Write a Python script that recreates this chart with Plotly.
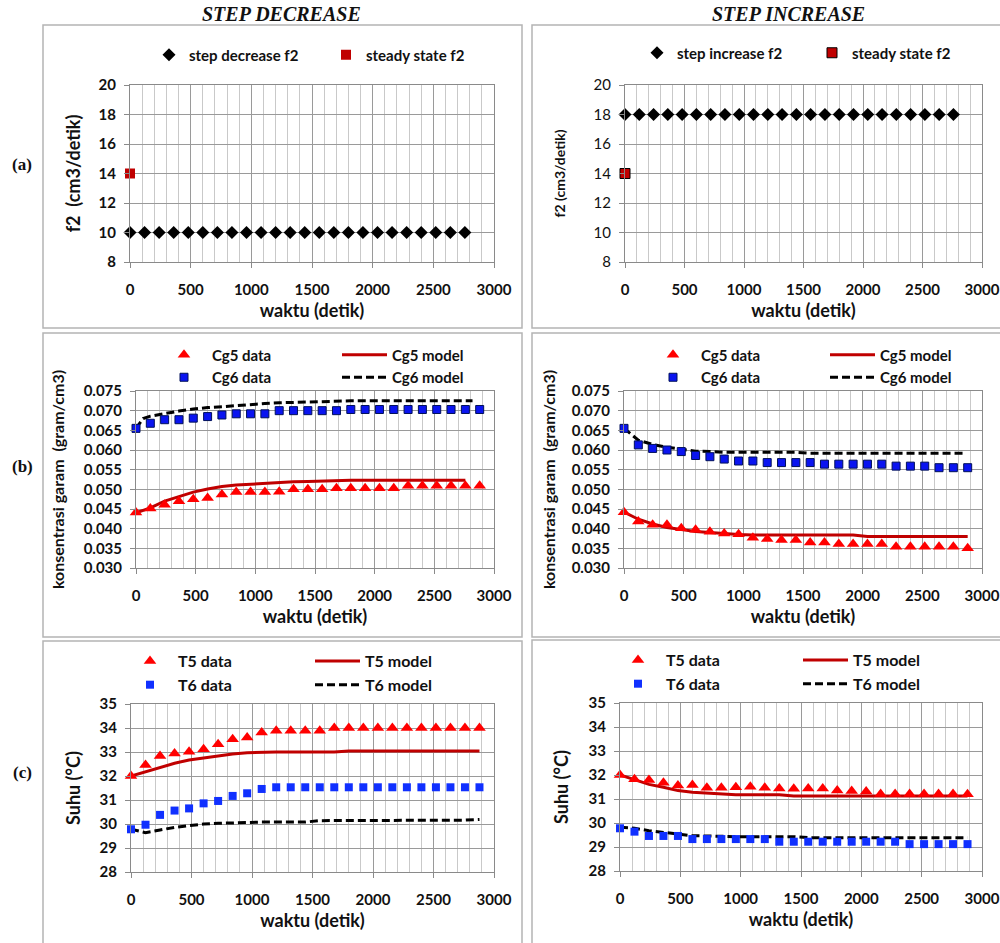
import plotly.graph_objects as go

# ---------------- data ----------------
t_f2 = [0, 120, 240, 360, 480, 600, 720, 840, 960, 1080, 1200, 1320, 1440, 1560,
        1680, 1800, 1920, 2040, 2160, 2280, 2400, 2520, 2640, 2760]
f2_decrease = [10, 10, 10, 10, 10, 10, 10, 10, 10, 10, 10, 10, 10, 10, 10, 10, 10, 10, 10, 10, 10, 10, 10, 10]
f2_increase = [18, 18, 18, 18, 18, 18, 18, 18, 18, 18, 18, 18, 18, 18, 18, 18, 18, 18, 18, 18, 18, 18, 18, 18]
t_ss = [0]
f2_steady = [14]

t_data = [0, 120, 240, 360, 480, 600, 720, 840, 960, 1080, 1200, 1320, 1440, 1560,
          1680, 1800, 1920, 2040, 2160, 2280, 2400, 2520, 2640, 2760, 2880]

# step decrease - concentration
cg5_data_dec = [0.0441, 0.0451, 0.0461, 0.0470, 0.0475, 0.0478, 0.0487, 0.0493, 0.0493, 0.0493,
                0.0494, 0.0500, 0.0500, 0.0500, 0.0503, 0.0503, 0.0503, 0.0503, 0.0503, 0.0509,
                0.0509, 0.0509, 0.0509, 0.0509, 0.0509]
cg6_data_dec = [0.0655, 0.0668, 0.0677, 0.0677, 0.0681, 0.0685, 0.0689, 0.0692, 0.0692, 0.0692,
                0.0700, 0.0700, 0.0700, 0.0700, 0.0700, 0.0703, 0.0703, 0.0703, 0.0703, 0.0703,
                0.0703, 0.0703, 0.0703, 0.0703, 0.0703]
t_cg5_model_dec = [0, 120, 240, 360, 480, 600, 720, 840, 960, 1080, 1200, 1320, 1440, 1560,
                   1680, 1800, 1920, 2040, 2160, 2280, 2400, 2520, 2640, 2760]
cg5_model_dec = [0.0440, 0.0453, 0.0470, 0.0482, 0.0493, 0.0501, 0.0507, 0.0511, 0.0513, 0.0516,
                 0.0517, 0.0519, 0.0520, 0.0521, 0.0523, 0.0523, 0.0523, 0.0523, 0.0523, 0.0523,
                 0.0523, 0.0523, 0.0523, 0.0523]
t_cg6_model_dec = [0, 60, 120, 240, 360, 480, 600, 720, 840, 960, 1080, 1200, 1320, 1440, 1560,
                   1680, 1800, 1920, 2040, 2160, 2280, 2400, 2520, 2640, 2760, 2820]
cg6_model_dec = [0.0655, 0.0680, 0.0686, 0.0693, 0.0699, 0.0704, 0.0708, 0.0710, 0.0713, 0.0716,
                 0.0718, 0.0720, 0.0721, 0.0723, 0.0724, 0.0725, 0.0725, 0.0725, 0.0725, 0.0725,
                 0.0725, 0.0725, 0.0725, 0.0725, 0.0725, 0.0725]

# step increase - concentration
cg5_data_inc = [0.0442, 0.0418, 0.0410, 0.0410, 0.0401, 0.0397, 0.0392, 0.0388, 0.0386, 0.0377,
                0.0374, 0.0371, 0.0371, 0.0365, 0.0365, 0.0361, 0.0361, 0.0361, 0.0361, 0.0354,
                0.0354, 0.0354, 0.0354, 0.0354, 0.0350]
cg6_data_inc = [0.0655, 0.0613, 0.0604, 0.0600, 0.0596, 0.0586, 0.0583, 0.0577, 0.0572, 0.0572,
                0.0568, 0.0568, 0.0568, 0.0568, 0.0564, 0.0564, 0.0564, 0.0564, 0.0564, 0.0559,
                0.0559, 0.0559, 0.0555, 0.0555, 0.0555]
t_cg5_model_inc = [0, 120, 240, 360, 480, 600, 720, 840, 960, 1080, 1200, 1320, 1440, 1560,
                   1680, 1800, 1920, 2040, 2160, 2280, 2400, 2520, 2640, 2760, 2880]
cg5_model_inc = [0.0442, 0.0424, 0.0412, 0.0403, 0.0398, 0.0393, 0.0390, 0.0387, 0.0385, 0.0384,
                 0.0384, 0.0384, 0.0384, 0.0384, 0.0384, 0.0384, 0.0384, 0.0380, 0.0380, 0.0380,
                 0.0380, 0.0380, 0.0380, 0.0380, 0.0380]
t_cg6_model_inc = [0, 120, 240, 360, 480, 600, 720, 840, 960, 1080, 1200, 1320, 1440, 1560,
                   1680, 1800, 1920, 2040, 2160, 2280, 2400, 2520, 2640, 2760, 2840]
cg6_model_inc = [0.0655, 0.0625, 0.0614, 0.0607, 0.0602, 0.0597, 0.0596, 0.0594, 0.0594, 0.0594,
                 0.0594, 0.0594, 0.0594, 0.0592, 0.0592, 0.0592, 0.0592, 0.0592, 0.0592, 0.0592,
                 0.0592, 0.0592, 0.0592, 0.0592, 0.0592]

# step decrease - temperature
t5_data_dec = [32.00, 32.46, 32.83, 32.94, 33.01, 33.11, 33.32, 33.53, 33.60, 33.81, 33.89, 33.89,
               33.89, 33.89, 34.00, 34.00, 34.00, 34.00, 34.00, 34.00, 34.00, 34.00, 34.00, 34.00, 34.00]
t6_data_dec = [29.78, 29.97, 30.38, 30.56, 30.65, 30.86, 30.96, 31.17, 31.28, 31.46, 31.53, 31.53,
               31.53, 31.53, 31.53, 31.53, 31.53, 31.53, 31.53, 31.53, 31.53, 31.53, 31.53, 31.53, 31.53]
t5_model_dec = [32.00, 32.18, 32.36, 32.53, 32.67, 32.76, 32.86, 32.92, 32.97, 33.00, 33.00, 33.00,
                33.00, 33.00, 33.00, 33.04, 33.04, 33.04, 33.04, 33.04, 33.04, 33.04, 33.04, 33.04, 33.04]
t6_model_dec = [29.78, 29.64, 29.75, 29.86, 29.93, 30.00, 30.03, 30.06, 30.06, 30.08, 30.08, 30.08,
                30.08, 30.14, 30.14, 30.14, 30.14, 30.14, 30.14, 30.14, 30.14, 30.14, 30.14, 30.16, 30.19]

# step increase - temperature
t5_data_inc = [32.00, 31.82, 31.79, 31.68, 31.56, 31.58, 31.47, 31.47, 31.49, 31.51, 31.47, 31.44,
               31.43, 31.44, 31.44, 31.35, 31.33, 31.31, 31.21, 31.21, 31.21, 31.21, 31.21, 31.21, 31.20]
t6_data_inc = [29.78, 29.64, 29.46, 29.46, 29.46, 29.33, 29.33, 29.33, 29.33, 29.33, 29.33, 29.22,
               29.22, 29.22, 29.22, 29.22, 29.22, 29.22, 29.22, 29.22, 29.12, 29.12, 29.12, 29.12, 29.12]
t5_model_inc = [32.00, 31.79, 31.61, 31.49, 31.35, 31.28, 31.24, 31.21, 31.18, 31.18, 31.18, 31.18,
                31.13, 31.13, 31.13, 31.13, 31.13, 31.13, 31.13, 31.13, 31.13, 31.13, 31.13, 31.13, 31.13]
t6_model_inc = [29.82, 29.78, 29.68, 29.60, 29.53, 29.47, 29.46, 29.43, 29.43, 29.43, 29.43, 29.43,
                29.43, 29.39, 29.39, 29.39, 29.39, 29.39, 29.39, 29.39, 29.39, 29.39, 29.39, 29.39, 29.39]

# ---------------- style ----------------
W, H = 1000, 943
FONT = "Lato"
RED = "#FF0000"
DARKRED = "#C00000"
BLUE = "#0A14F0"
MAJ = "#9a9a9a"
MIN = "#c9c9c9"
AXC = "#8a8a8a"


def px(x):
    return x / W


def py(y):
    return 1 - y / H


fig = go.Figure()

# panel axes (pixel boxes: x0, x1, ytop, ybottom)
panels = {
    1: (130, 494, 85, 262),
    2: (625, 982, 85, 262),
    3: (136, 494, 391, 568),
    4: (624, 982, 391, 568),
    5: (131, 494, 704, 872),
    6: (620, 982, 703, 871),
}

yconf = {
    1: dict(range=[8, 20], dtick=2, title="f2  (cm3/detik)", tsize=18, tw="bold", stand=13),
    2: dict(range=[8, 20], dtick=2, title="f2 (cm3/detik)", tsize=14, tw="bold", stand=24),
    3: dict(range=[0.030, 0.075], dtick=0.005, title="konsentrasi garam  (gram/cm3)", tsize=16, tw="bold", stand=15),
    4: dict(range=[0.030, 0.075], dtick=0.005, title="konsentrasi garam  (gram/cm3)", tsize=16, tw="bold", stand=12),
    5: dict(range=[28, 35], dtick=1, title="Suhu (°C)", tsize=18, tw="bold", stand=14),
    6: dict(range=[28, 35], dtick=1, title="Suhu (°C)", tsize=18, tw="bold", stand=15),
}

layout = dict(
    width=W, height=H,
    margin=dict(l=0, r=0, t=0, b=0),
    paper_bgcolor="white", plot_bgcolor="white",
    font=dict(family=FONT, color="#111111"),
    showlegend=True,
)

for i, (x0, x1, yt, yb) in panels.items():
    sfx = "" if i == 1 else str(i)
    yc = yconf[i]
    layout["xaxis" + sfx] = dict(
        domain=[px(x0), px(x1)], anchor="y" + sfx,
        range=[0, 3000], tick0=0, dtick=500,
        showgrid=True, gridcolor=MAJ, gridwidth=1,
        minor=dict(tick0=0, dtick=100, showgrid=True, gridcolor=MIN, gridwidth=1),
        showline=True, linecolor=AXC, linewidth=1, mirror=True,
        ticks="outside", ticklen=5, tickcolor=AXC,
        tickfont=dict(family=FONT, size=15, color="#111111", weight="bold"),
        ticklabelstandoff=9,
        zeroline=False, automargin=False,
        title=dict(text="waktu (detik)", standoff=7,
                   font=dict(family=FONT, size=18, color="#111111", weight="bold")),
    )
    layout["yaxis" + sfx] = dict(
        domain=[py(yb), py(yt)], anchor="x" + sfx,
        range=yc["range"], dtick=yc["dtick"], tick0=0,
        tickformat=".3f" if i in (3, 4) else "d",
        showgrid=True, gridcolor=MAJ, gridwidth=1,
        showline=True, linecolor=AXC, linewidth=1, mirror=True,
        ticks="outside", ticklen=5, tickcolor=AXC,
        tickfont=dict(family=FONT, size=15, color="#111111",
                      weight="normal" if i == 2 else "bold"),
        ticklabelstandoff=5,
        zeroline=False, automargin=False,
        title=dict(text=yc["title"], standoff=yc["stand"],
                   font=dict(family=FONT, size=yc["tsize"], color="#111111", weight=yc["tw"])),
    )

# legends: (x of legend box px, center y px, itemwidth, font size)
legend_specs = {
    "legend": (149, 55, 30, 15),
    "legend2": (326, 55, 30, 15),
    "legend3": (637, 53, 30, 15),
    "legend4": (812, 53, 30, 15),
    "legend5": (156, 366, 46, 15),
    "legend6": (337, 366, 45, 15),
    "legend7": (645, 366, 46, 15),
    "legend8": (825, 366, 45, 15),
    "legend9": (122, 673, 46, 16),
    "legend10": (310, 673, 45, 16),
    "legend11": (610, 672, 46, 16),
    "legend12": (798, 672, 45, 16),
}
for name, (lx, ly, iw, fs) in legend_specs.items():
    layout[name] = dict(
        x=px(lx), y=py(ly), xanchor="left", yanchor="middle",
        xref="paper", yref="paper", orientation="v",
        bgcolor="rgba(0,0,0,0)", borderwidth=0, itemwidth=iw,
        font=dict(family=FONT, size=fs, color="#111111", weight="bold"),
        tracegroupgap=0, visible=True,
    )


def add_markers(x, y, axis_i, name, legend, symbol, color, size, line=None):
    sfx = "" if axis_i == 1 else str(axis_i)
    fig.add_trace(go.Scatter(
        x=x, y=y, mode="markers", name=name, legend=legend, showlegend=True,
        xaxis="x" + sfx, yaxis="y" + sfx, cliponaxis=False,
        marker=dict(symbol=symbol, color=color, size=size,
                    line=line if line else dict(width=0)),
    ))


def add_line(x, y, axis_i, name, legend, color, dash):
    sfx = "" if axis_i == 1 else str(axis_i)
    fig.add_trace(go.Scatter(
        x=x, y=y, mode="lines", name=name, legend=legend, showlegend=True,
        xaxis="x" + sfx, yaxis="y" + sfx, cliponaxis=False,
        line=dict(color=color, width=3, dash=dash),
    ))


# row 1
add_markers(t_f2, f2_decrease, 1, "step decrease f2", "legend", "diamond", "#000000", 10)
add_markers(t_ss, f2_steady, 1, "steady state f2", "legend2", "square", DARKRED, 10)
add_markers(t_f2, f2_increase, 2, "step increase f2", "legend3", "diamond", "#000000", 10)
add_markers(t_ss, f2_steady, 2, "steady state f2", "legend4", "square", DARKRED, 10,
            line=dict(color="#000000", width=1))

# row 2
SQL = dict(color="#00105a", width=1)
add_line(t_cg5_model_dec, cg5_model_dec, 3, "Cg5 model", "legend6", DARKRED, "solid")
add_line(t_cg6_model_dec, cg6_model_dec, 3, "Cg6 model", "legend6", "#000000", "8px,4px")
add_markers(t_data, cg5_data_dec, 3, "Cg5 data", "legend5", "triangle-up", RED, 11)
add_markers(t_data, cg6_data_dec, 3, "Cg6 data", "legend5", "square", BLUE, 8, line=SQL)

add_line(t_cg5_model_inc, cg5_model_inc, 4, "Cg5 model", "legend8", DARKRED, "solid")
add_line(t_cg6_model_inc, cg6_model_inc, 4, "Cg6 model", "legend8", "#000000", "8px,4px")
add_markers(t_data, cg5_data_inc, 4, "Cg5 data", "legend7", "triangle-up", RED, 11)
add_markers(t_data, cg6_data_inc, 4, "Cg6 data", "legend7", "square", BLUE, 8, line=SQL)

# row 3
add_line(t_data, t5_model_dec, 5, "T5 model", "legend10", DARKRED, "solid")
add_line(t_data, t6_model_dec, 5, "T6 model", "legend10", "#000000", "8px,4px")
add_markers(t_data, t5_data_dec, 5, "T5 data", "legend9", "triangle-up", RED, 11)
add_markers(t_data, t6_data_dec, 5, "T6 data", "legend9", "square", "#1030FF", 8)

add_line(t_data, t5_model_inc, 6, "T5 model", "legend12", DARKRED, "solid")
add_line(t_data, t6_model_inc, 6, "T6 model", "legend12", "#000000", "8px,4px")
add_markers(t_data, t5_data_inc, 6, "T5 data", "legend11", "triangle-up", RED, 11)
add_markers(t_data, t6_data_inc, 6, "T6 data", "legend11", "square", "#1030FF", 8)

# panel frames
shapes = []
frames = [(43, 522, 25, 328), (532, 1010, 25, 328),
          (43, 522, 333, 637), (532, 1010, 333, 637),
          (43, 522, 641, 960), (532, 1010, 640, 960)]
for (a, b, c, d) in frames:
    shapes.append(dict(type="rect", xref="paper", yref="paper",
                       x0=px(a), x1=px(b), y0=py(d), y1=py(c),
                       line=dict(color="#b4b4b4", width=1.5), layer="below"))
layout["shapes"] = shapes

ann = []
for text, x, y in [("STEP DECREASE", 281, 14), ("STEP INCREASE", 788, 14)]:
    ann.append(dict(text="<b><i>" + text + "</i></b>", x=px(x), y=py(y), xref="paper", yref="paper",
                    xanchor="center", yanchor="middle", showarrow=False,
                    font=dict(family="Liberation Serif", size=20, color="#111111")))
for text, y in [("(a)", 165), ("(b)", 467), ("(c)", 772)]:
    ann.append(dict(text="<b>" + text + "</b>", x=px(22), y=py(y), xref="paper", yref="paper",
                    xanchor="center", yanchor="middle", showarrow=False,
                    font=dict(family="Liberation Serif", size=17, color="#111111")))
layout["annotations"] = ann

fig.update_layout(**layout)
fig.write_html("out.html")
